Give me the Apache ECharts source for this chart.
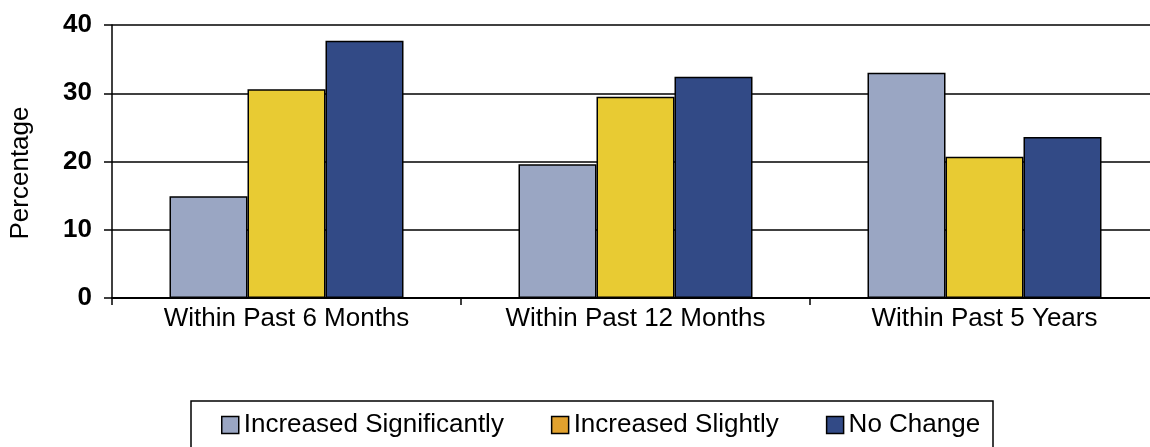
<!DOCTYPE html>
<html>
<head>
<meta charset="utf-8">
<script src="https://cdn.jsdelivr.net/npm/echarts@6/dist/echarts.min.js"></script>
<style>html,body{margin:0;padding:0;background:#fff;overflow:hidden;width:1150px;height:447px;}#c{width:1160px;height:447px;}</style>
</head>
<body>
<div id="c"></div>
<script>
const categories = ['Within Past 6 Months', 'Within Past 12 Months', 'Within Past 5 Years'];
const seriesNames = ['Increased Significantly', 'Increased Slightly', 'No Change'];
const increasedSignificantly = [14.9, 19.6, 33.0];
const increasedSlightly = [30.6, 29.5, 20.7];
const noChange = [37.7, 32.4, 23.6];
const yTicks = [0, 10, 20, 30, 40];

const colors = ['#9AA6C3', '#E8CB33', '#324A86'];
const legendIconColors = ['#9AA6C3', '#E2A22E', '#324A86'];
const font = '"Liberation Sans", Arial, sans-serif';
const values = [increasedSignificantly, increasedSlightly, noChange];

const chart = echarts.init(document.getElementById('c'), null, {renderer: 'canvas'});
chart.setOption({
  animation: false,
  backgroundColor: '#fff',
  grid: {left: 112, width: 1047, top: 25, height: 273, containLabel: false},
  graphic: [
    {type: 'rect', shape: {x: 191, y: 401, width: 802, height: 70},
     style: {fill: 'none', stroke: '#000', lineWidth: 1.5}, silent: true},
    {type: 'text', x: 21, y: 173, rotation: Math.PI / 2,
     style: {text: 'Percentage', font: '26px ' + font, fill: '#000', textAlign: 'center', textVerticalAlign: 'middle'}}
  ],
  legend: {
    left: 221, top: 412, padding: 0, itemGap: 47,
    itemWidth: 17, itemHeight: 17, icon: 'rect',
    textStyle: {fontFamily: font, fontSize: 26, color: '#000'},
    data: seriesNames.map((n, i) => ({name: n, itemStyle: {color: legendIconColors[i], borderColor: '#000', borderWidth: 1.5}}))
  },
  xAxis: {
    type: 'category', data: categories,
    axisLine: {show: true, lineStyle: {color: '#000', width: 2}},
    axisTick: {show: true, length: 7, lineStyle: {color: '#000', width: 1.5}},
    axisLabel: {fontFamily: font, fontSize: 26, color: '#000', margin: 8}
  },
  yAxis: {
    type: 'value', min: 0, max: 40, interval: 10,
    axisLine: {show: true, lineStyle: {color: '#000', width: 1.5}},
    axisTick: {show: true, length: 8, lineStyle: {color: '#000', width: 1.5}},
    axisLabel: {fontFamily: font, fontSize: 26, fontWeight: 'bold', color: '#000', margin: 20,
      formatter: v => yTicks.includes(v) ? String(v) : ''},
    splitLine: {show: true, lineStyle: {color: '#000', width: 1.5}}
  },
  series: seriesNames.map((n, i) => ({
    name: n, type: 'bar', data: values[i],
    barWidth: 78, barGap: '0%',
    itemStyle: {color: colors[i], borderColor: '#000', borderWidth: 1.5}
  }))
});
</script>
</body>
</html>
